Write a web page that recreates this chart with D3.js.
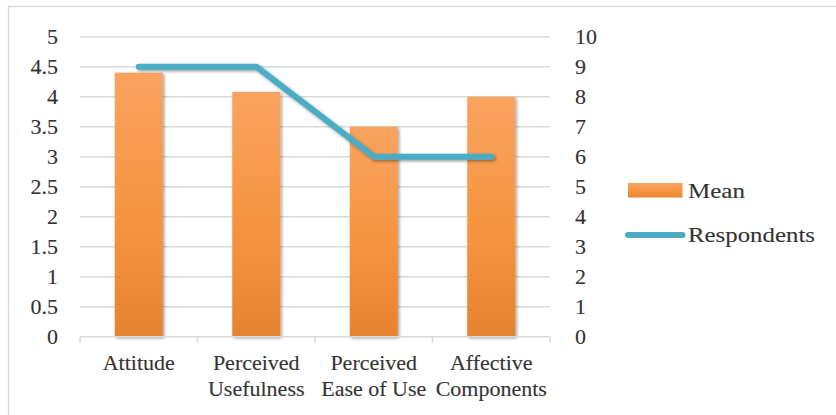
<!DOCTYPE html>
<html>
<head>
<meta charset="utf-8">
<script src="https://cdn.jsdelivr.net/npm/d3@7/dist/d3.min.js"></script>
<style>
  html, body { margin: 0; padding: 0; background: #fff; }
  svg { display: block; }
  svg text { font-family: "Liberation Serif", "Times New Roman", serif !important; fill: #333; stroke: #333; stroke-width: 0.12px; }
</style>
</head>
<body>
<svg id="chart" width="836" height="415"></svg>
<script>
// Survey constructs with their mean score and respondent count
const categories = [["Attitude"], ["Perceived", "Usefulness"], ["Perceived", "Ease of Use"], ["Affective", "Components"]];
const meanValues = [4.4, 4.08, 3.5, 4.0];
const respondentValues = [9, 9, 6, 6];
const leftTicks = [0, 0.5, 1, 1.5, 2, 2.5, 3, 3.5, 4, 4.5, 5];
const rightTicks = [0, 1, 2, 3, 4, 5, 6, 7, 8, 9, 10];
const seriesNames = ["Mean", "Respondents"];

const FONT = "'Liberation Serif', 'Times New Roman', serif";
const svg = d3.select("#chart");
const margin = { left: 80, right: 286, top: 36.7, bottom: 78.3 };
const W = 836, H = 415;
const x0 = margin.left, x1 = W - margin.right;
const y0 = H - margin.bottom, y1 = margin.top;

const defs = svg.append("defs");
const grad = defs.append("linearGradient")
  .attr("id", "barFill").attr("x1", 0).attr("y1", 0).attr("x2", 0).attr("y2", 1);
grad.append("stop").attr("offset", "0%").attr("stop-color", "#f9a360");
grad.append("stop").attr("offset", "55%").attr("stop-color", "#f69440");
grad.append("stop").attr("offset", "100%").attr("stop-color", "#e6832f");

const shadow = defs.append("filter").attr("id", "shade")
  .attr("x", "-20%").attr("y", "-20%").attr("width", "150%").attr("height", "150%");
shadow.append("feDropShadow").attr("dx", 1.5).attr("dy", 1.5)
  .attr("stdDeviation", 1.8).attr("flood-color", "#000").attr("flood-opacity", 0.4);

// chart frame
svg.append("rect").attr("x", 8.5).attr("y", 6.5).attr("width", 840).attr("height", 420)
  .attr("fill", "none").attr("stroke", "#d9d9d9").attr("stroke-width", 1.5);

const x = d3.scaleBand().domain(d3.range(categories.length)).range([x0, x1]).paddingInner(0).paddingOuter(0);
const yL = d3.scaleLinear().domain([0, 5]).range([y0, y1]);
const yR = d3.scaleLinear().domain([0, 10]).range([y0, y1]);

// horizontal gridlines
svg.append("g").selectAll("line").data(leftTicks.filter(d => d > 0)).join("line")
  .attr("x1", x0).attr("x2", x1)
  .attr("y1", d => yL(d)).attr("y2", d => yL(d))
  .attr("stroke", "#d9d9d9").attr("stroke-width", 1.5);

// left axis labels
const leftAxis = d3.axisLeft(yL).tickValues(leftTicks).tickSize(0).tickPadding(22)
  .tickFormat(d3.format(""));
const gL = svg.append("g").attr("transform", `translate(${x0},0)`).call(leftAxis)
  .attr("font-family", FONT).attr("font-size", 22);
gL.select(".domain").remove();

// right axis labels
const rightAxis = d3.axisRight(yR).tickValues(rightTicks).tickSize(0).tickPadding(25);
const gR = svg.append("g").attr("transform", `translate(${x1},0)`).call(rightAxis)
  .attr("font-family", FONT).attr("font-size", 22);
gR.select(".domain").remove();

// bars
const barW = x.bandwidth() / 2.45;
svg.append("g").selectAll("rect").data(meanValues).join("rect")
  .attr("x", (d, i) => x(i) + (x.bandwidth() - barW) / 2)
  .attr("width", barW)
  .attr("y", d => yL(d))
  .attr("height", d => y0 - yL(d))
  .attr("fill", "url(#barFill)")
  .attr("filter", "url(#shade)");

// category axis
svg.append("line").attr("x1", x0).attr("x2", x1).attr("y1", y0).attr("y2", y0)
  .attr("stroke", "#d9d9d9").attr("stroke-width", 1.5);
svg.append("g").selectAll("line").data(d3.range(categories.length + 1)).join("line")
  .attr("x1", i => x0 + i * x.bandwidth()).attr("x2", i => x0 + i * x.bandwidth())
  .attr("y1", y0).attr("y2", y0 + 6)
  .attr("stroke", "#d9d9d9").attr("stroke-width", 1.5);

const labels = svg.append("g").attr("font-family", FONT).attr("font-size", 22)
  .selectAll("text").data(categories).join("text")
  .attr("text-anchor", "middle")
  .attr("x", (d, i) => x(i) + x.bandwidth() / 2)
  .attr("y", y0 + 33);
labels.selectAll("tspan").data(d => d).join("tspan")
  .attr("x", function () { return d3.select(this.parentNode).attr("x"); })
  .attr("dy", (d, j) => j === 0 ? 0 : 26)
  .text(d => d);

// respondents line
const line = d3.line()
  .x((d, i) => x(i) + x.bandwidth() / 2)
  .y(d => yR(d));
svg.append("path").datum(respondentValues)
  .attr("d", line)
  .attr("fill", "none")
  .attr("stroke", "#4bacc6")
  .attr("stroke-width", 6)
  .attr("stroke-linecap", "round")
  .attr("stroke-linejoin", "round")
  .attr("filter", "url(#shade)");

// legend
const legend = svg.append("g").attr("font-family", FONT).attr("font-size", 22);
legend.append("rect").attr("x", 628).attr("y", 183).attr("width", 54.5).attr("height", 14.5)
  .attr("fill", "url(#barFill)");
legend.append("line").attr("x1", 628).attr("x2", 682.5).attr("y1", 235).attr("y2", 235)
  .attr("stroke", "#4bacc6").attr("stroke-width", 6).attr("stroke-linecap", "round");
legend.selectAll("text").data(seriesNames).join("text")
  .attr("x", 688)
  .attr("y", (d, i) => i === 0 ? 198 : 242)
  .attr("textLength", (d, i) => i === 0 ? 57 : 127)
  .attr("lengthAdjust", "spacingAndGlyphs")
  .text(d => d);
</script>
</body>
</html>
